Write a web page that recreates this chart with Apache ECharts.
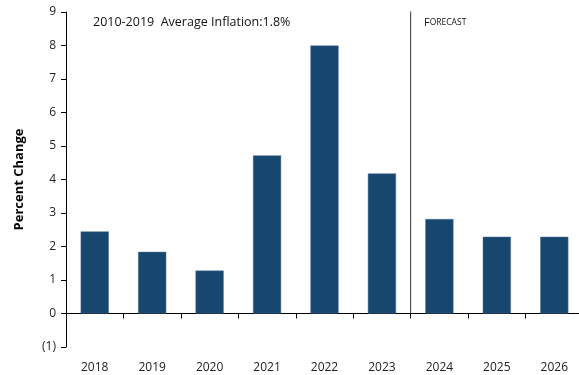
<!DOCTYPE html>
<html>
<head>
<meta charset="utf-8">
<script src="https://cdn.jsdelivr.net/npm/echarts@6/dist/echarts.min.js"></script>
<style>
  html, body { margin: 0; padding: 0; background: #fff; }
  #chart { width: 579px; height: 375px; }
</style>
</head>
<body>
<div id="chart"></div>
<script>
const years = ['2018', '2019', '2020', '2021', '2022', '2023', '2024', '2025', '2026'];
const inflation = [2.45, 1.84, 1.28, 4.72, 8.0, 4.18, 2.82, 2.29, 2.29];
const forecastStart = 6; // index of first forecast year (2024)
const yTicks = { min: -1, max: 9, step: 1 };

const chart = echarts.init(document.getElementById('chart'));
const font = '"Open Sans", "Noto Sans", sans-serif';

chart.setOption({
  animation: false,
  textStyle: { fontFamily: font },
  grid: { left: 66, right: -4, top: 12, bottom: 28, containLabel: false, outerBoundsMode: 'none' },
  xAxis: [
    {
      // axis line at zero with ticks
      type: 'category',
      data: years,
      axisLine: { onZero: true, lineStyle: { color: '#000', width: 1 } },
      axisTick: { show: true, inside: false, length: 5, lineStyle: { color: '#000' } },
      axisLabel: { show: false }
    },
    {
      type: 'value',
      min: 0,
      max: years.length,
      show: false
    },
    {
      // year labels along the bottom
      type: 'category',
      data: years,
      position: 'bottom',
      axisLine: { show: false, onZero: false },
      axisTick: { show: false },
      axisLabel: { color: '#222', fontSize: 12, margin: 15, fontFamily: font }
    }
  ],
  yAxis: {
    type: 'value',
    min: yTicks.min,
    max: yTicks.max,
    interval: yTicks.step,
    name: 'Percent Change',
    nameLocation: 'middle',
    nameGap: 40,
    nameTextStyle: { fontWeight: 'bold', fontSize: 13, color: '#000', fontFamily: font },
    axisLine: { show: true, lineStyle: { color: '#000' } },
    axisTick: { show: true, length: 5, lineStyle: { color: '#000' } },
    splitLine: { show: false },
    axisLabel: {
      color: '#222',
      fontSize: 12,
      margin: 10,
      formatter: v => v < 0 ? '(' + Math.abs(v) + ')' : String(v)
    }
  },
  series: [
    {
      type: 'bar',
      data: inflation,
      barWidth: '49%',
      itemStyle: { color: '#17466f', borderColor: '#4f7396', borderWidth: 0.5 }
    },
    {
      // forecast divider
      type: 'line',
      xAxisIndex: 1,
      data: [[forecastStart, 0], [forecastStart, yTicks.max + 0.05]],
      symbol: 'none',
      silent: true,
      lineStyle: { color: '#333', width: 1 },
      z: 1
    }
  ],
  graphic: [
    {
      type: 'text',
      left: 93,
      top: 16,
      style: {
        text: '2010-2019  Average Inflation:1.8%',
        font: '12.5px ' + font,
        fill: '#111'
      }
    },
    {
      type: 'text',
      left: 424,
      top: 17,
      style: {
        text: '{a|F}{b|ORECAST}',
        rich: {
          a: { fontSize: 11, fontFamily: font, fill: '#111' },
          b: { fontSize: 8.5, fontFamily: font, fill: '#111' }
        }
      }
    }
  ]
});
</script>
</body>
</html>
